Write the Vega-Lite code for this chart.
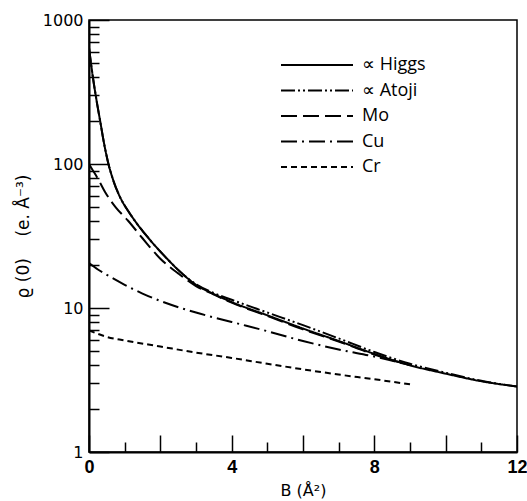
{
  "$schema": "https://vega.github.io/schema/vega-lite/v6.json",
  "width": 428,
  "height": 432,
  "autosize": {"type": "none"},
  "padding": {"left": 89, "top": 20, "right": 10, "bottom": 49},
  "background": "white",
  "config": {
    "view": {"stroke": "black", "strokeWidth": 1.5},
    "font": "DejaVu Sans"
  },
  "data": {
    "values": [
      {"series": "∝ Higgs", "B": 0, "rho": 640},
      {"series": "∝ Higgs", "B": 0.112, "rho": 396},
      {"series": "∝ Higgs", "B": 0.224, "rho": 265},
      {"series": "∝ Higgs", "B": 0.308, "rho": 202},
      {"series": "∝ Higgs", "B": 0.42, "rho": 140},
      {"series": "∝ Higgs", "B": 0.533, "rho": 103},
      {"series": "∝ Higgs", "B": 0.673, "rho": 78},
      {"series": "∝ Higgs", "B": 0.869, "rho": 59},
      {"series": "∝ Higgs", "B": 1.09, "rho": 47.5},
      {"series": "∝ Higgs", "B": 1.29, "rho": 40.2},
      {"series": "∝ Higgs", "B": 1.71, "rho": 29.7},
      {"series": "∝ Higgs", "B": 2.1, "rho": 23.2},
      {"series": "∝ Higgs", "B": 2.5, "rho": 18.4},
      {"series": "∝ Higgs", "B": 3, "rho": 14.5},
      {"series": "∝ Higgs", "B": 3.5, "rho": 12.5},
      {"series": "∝ Higgs", "B": 4, "rho": 11.0},
      {"series": "∝ Higgs", "B": 5, "rho": 8.9},
      {"series": "∝ Higgs", "B": 6, "rho": 7.2},
      {"series": "∝ Higgs", "B": 7, "rho": 5.9},
      {"series": "∝ Higgs", "B": 8, "rho": 4.8},
      {"series": "∝ Higgs", "B": 9, "rho": 4.0},
      {"series": "∝ Higgs", "B": 10, "rho": 3.5},
      {"series": "∝ Higgs", "B": 11, "rho": 3.1},
      {"series": "∝ Higgs", "B": 12, "rho": 2.85},
      {"series": "∝ Atoji", "B": 0, "rho": 640},
      {"series": "∝ Atoji", "B": 0.112, "rho": 396},
      {"series": "∝ Atoji", "B": 0.224, "rho": 265},
      {"series": "∝ Atoji", "B": 0.308, "rho": 202},
      {"series": "∝ Atoji", "B": 0.42, "rho": 140},
      {"series": "∝ Atoji", "B": 0.533, "rho": 103},
      {"series": "∝ Atoji", "B": 0.673, "rho": 78},
      {"series": "∝ Atoji", "B": 0.869, "rho": 59},
      {"series": "∝ Atoji", "B": 1.09, "rho": 47.5},
      {"series": "∝ Atoji", "B": 1.29, "rho": 40.2},
      {"series": "∝ Atoji", "B": 1.71, "rho": 29.7},
      {"series": "∝ Atoji", "B": 2.1, "rho": 23.2},
      {"series": "∝ Atoji", "B": 2.5, "rho": 18.4},
      {"series": "∝ Atoji", "B": 3, "rho": 14.6},
      {"series": "∝ Atoji", "B": 3.5, "rho": 12.7},
      {"series": "∝ Atoji", "B": 4, "rho": 11.4},
      {"series": "∝ Atoji", "B": 5, "rho": 9.3},
      {"series": "∝ Atoji", "B": 6, "rho": 7.6},
      {"series": "∝ Atoji", "B": 7, "rho": 6.15},
      {"series": "∝ Atoji", "B": 8, "rho": 4.95},
      {"series": "∝ Atoji", "B": 9, "rho": 4.1},
      {"series": "∝ Atoji", "B": 10, "rho": 3.55},
      {"series": "∝ Atoji", "B": 11, "rho": 3.12},
      {"series": "∝ Atoji", "B": 12, "rho": 2.85},
      {"series": "Mo", "B": 0, "rho": 100},
      {"series": "Mo", "B": 0.1, "rho": 91},
      {"series": "Mo", "B": 0.25, "rho": 79},
      {"series": "Mo", "B": 0.45, "rho": 64},
      {"series": "Mo", "B": 0.75, "rho": 50},
      {"series": "Mo", "B": 1.09, "rho": 40.5},
      {"series": "Mo", "B": 1.5, "rho": 30.5},
      {"series": "Mo", "B": 2, "rho": 22},
      {"series": "Mo", "B": 2.5, "rho": 17.4},
      {"series": "Mo", "B": 3, "rho": 14.2},
      {"series": "Mo", "B": 3.5, "rho": 12.4},
      {"series": "Mo", "B": 4, "rho": 10.9},
      {"series": "Mo", "B": 5, "rho": 8.8},
      {"series": "Mo", "B": 6, "rho": 7.1},
      {"series": "Mo", "B": 7, "rho": 5.85},
      {"series": "Mo", "B": 8, "rho": 4.75},
      {"series": "Mo", "B": 9, "rho": 4.0},
      {"series": "Cu", "B": 0, "rho": 20.5},
      {"series": "Cu", "B": 0.25, "rho": 18.5},
      {"series": "Cu", "B": 0.5, "rho": 17},
      {"series": "Cu", "B": 1, "rho": 14.5},
      {"series": "Cu", "B": 1.5, "rho": 12.6},
      {"series": "Cu", "B": 2, "rho": 11.2},
      {"series": "Cu", "B": 3, "rho": 9.3},
      {"series": "Cu", "B": 4, "rho": 8.0},
      {"series": "Cu", "B": 5, "rho": 6.9},
      {"series": "Cu", "B": 6, "rho": 5.9},
      {"series": "Cu", "B": 7, "rho": 5.15},
      {"series": "Cu", "B": 8, "rho": 4.6},
      {"series": "Cu", "B": 9, "rho": 4.0},
      {"series": "Cr", "B": 0, "rho": 7.0},
      {"series": "Cr", "B": 0.5, "rho": 6.3},
      {"series": "Cr", "B": 1, "rho": 5.95},
      {"series": "Cr", "B": 2, "rho": 5.4},
      {"series": "Cr", "B": 3, "rho": 4.9},
      {"series": "Cr", "B": 4, "rho": 4.5},
      {"series": "Cr", "B": 5, "rho": 4.1},
      {"series": "Cr", "B": 6, "rho": 3.75},
      {"series": "Cr", "B": 7, "rho": 3.45},
      {"series": "Cr", "B": 8, "rho": 3.2},
      {"series": "Cr", "B": 9, "rho": 2.95}
    ]
  },
  "mark": {"type": "line", "interpolate": "monotone", "color": "black", "strokeWidth": 2, "clip": true},
  "encoding": {
    "x": {
      "field": "B", "type": "quantitative",
      "scale": {"domain": [0, 12], "nice": false},
      "axis": {
        "title": "B (Å²)", "titleFont": "DejaVu Sans", "titleFontSize": 16, "titleFontWeight": "normal", "titlePadding": 6,
        "values": [0,1,2,3,4,5,6,7,8,9,10,11,12],
        "labelExpr": "datum.value % 4 == 0 ? datum.label : ''",
        "labelFont": "Liberation Sans", "labelFontSize": 18, "labelFontWeight": "bold", "labelColor": "black", "labelPadding": 23,
        "grid": false, "domainColor": "black", "domainWidth": 2,
        "tickColor": "black", "tickWidth": 1.5,
        "tickSize": {"condition": {"test": "datum.value % 2 == 0", "value": -17}, "value": -10},
        "labelFlush": false
      }
    },
    "y": {
      "field": "rho", "type": "quantitative",
      "scale": {"type": "log", "domain": [1, 1000], "nice": false},
      "axis": {
        "title": "ϱ (0)\u00a0\u00a0\u00a0 (e. Å⁻³)", "titleFont": "DejaVu Sans", "titleFontSize": 17, "titleFontWeight": "normal", "titlePadding": 10,
        "values": [1,2,3,4,5,6,7,8,9,10,20,30,40,50,60,70,80,90,100,200,300,400,500,600,700,800,900,1000],
        "format": "d",
        "labelExpr": "indexof([1,10,100,1000], datum.value) >= 0 ? datum.label : ''",
        "labelFont": "DejaVu Sans", "labelFontSize": 16, "labelColor": "black", "labelPadding": 26,
        "grid": false, "domainColor": "black", "domainWidth": 2,
        "tickColor": "black", "tickWidth": 1.5,
        "tickSize": {"condition": {"test": "indexof([1,10,100,1000], datum.value) >= 0", "value": -20}, "value": -10}
      }
    },
    "strokeDash": {
      "field": "series", "type": "nominal",
      "scale": {
        "domain": ["∝ Higgs", "∝ Atoji", "Mo", "Cu", "Cr"],
        "range": [[1, 0], [14, 3, 2, 3, 2, 3], [16, 6], [16, 5, 2, 5], [6, 4]]
      },
      "legend": {
        "title": null, "orient": "none", "legendX": 219, "legendY": 36,
        "symbolType": "M-7.2,0H7.2", "symbolSize": 100, "symbolStrokeWidth": 2, "symbolStrokeColor": "black", "symbolFillColor": "transparent",
        "labelFontSize": 18, "labelColor": "black", "labelFont": "Open Sans", "rowPadding": 7.5, "labelOffset": 36
      }
    }
  }
}
